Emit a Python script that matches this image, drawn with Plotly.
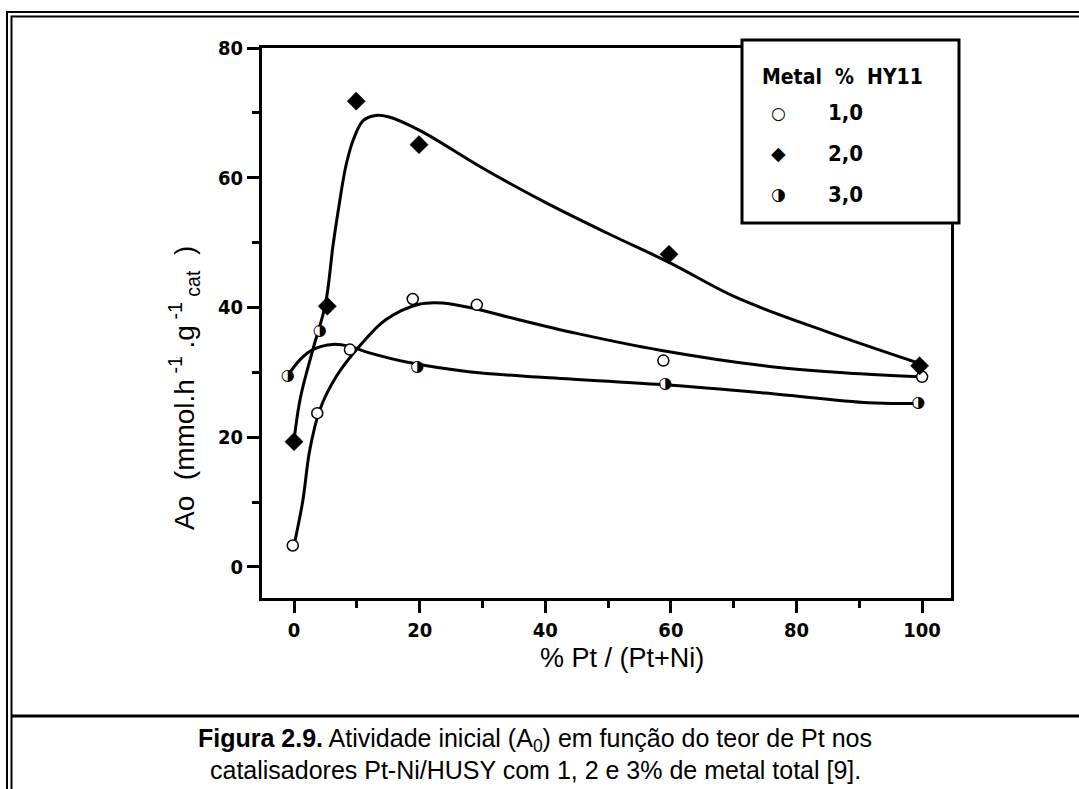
import plotly.graph_objects as go

# ---------------- data ----------------
# measured points
x_m1 = [-0.2, 3.7, 8.9, 18.9, 29.1, 58.8, 100.0]
y_m1 = [3.3, 23.7, 33.5, 41.3, 40.4, 31.8, 29.3]

x_m2 = [0.0, 5.3, 9.9, 19.9, 59.7, 99.6]
y_m2 = [19.3, 40.2, 71.8, 65.1, 48.2, 31.0]

x_m3 = [-1.0, 4.1, 19.6, 59.1, 99.4]
y_m3 = [29.5, 36.3, 30.8, 28.2, 25.3]

# fitted curves, as traced on the picture
x_c1 = [0, 1.4, 2.5, 4.1, 6.7, 10.4, 14.6, 19.9, 23.6, 28.9, 35, 45, 58.3, 75.7, 88, 99.5]
y_c1 = [3.3, 10.2, 18.0, 24.2, 29.3, 34.0, 38.1, 40.5, 40.7, 39.8, 38.3, 36.0, 33.4, 30.9, 29.9, 29.3]

x_c2 = [0, 1, 3, 5, 6.2, 7, 8.3, 9.5, 11, 13, 15, 20, 30, 40, 50, 60, 70.5, 85, 99.5]
y_c2 = [19.5, 26.0, 33.5, 40.5, 49.5, 54.7, 62.0, 66.0, 68.8, 69.6, 69.4, 67.3, 61.5, 56.2, 51.4, 46.8, 41.5, 36.2, 31.4]

x_c3 = [-1, 1, 3, 6.2, 8.8, 12, 18.3, 27.8, 40, 58.6, 75, 91.5, 99]
y_c3 = [29.5, 32.0, 33.5, 34.3, 34.0, 33.0, 31.5, 30.1, 29.2, 28.1, 26.8, 25.3, 25.2]

x_ticks = [0, 20, 40, 60, 80, 100]
y_ticks = [0, 20, 40, 60, 80]

legend_title = "Metal  %  HY11"
legend_labels = ["1,0", "2,0", "3,0"]
HALF = "\u25D1\uFE0E"
legend_symbols = ["\u25CB\uFE0E", "\u25C6\uFE0E", HALF]

# ---------------- layout geometry (pixels) ----------------
W, H = 1079, 789
L, R, T, B = 262, 951, 48, 598


def px(xp):
    return (xp - L) / (R - L)


def py(yp):
    return (B - yp) / (B - T)


TICKFONT = "Liberation Sans Narrow, DejaVu Sans Condensed, Arial Narrow, Liberation Sans"
TEXTFONT = "Liberation Sans, Arial, Helvetica"
SYMFONT = "DejaVu Sans"

fig = go.Figure()

line_style = dict(color="black", width=3, shape="spline", smoothing=1.0)
for xc, yc in [(x_c1, y_c1), (x_c2, y_c2), (x_c3, y_c3)]:
    fig.add_trace(go.Scatter(x=xc, y=yc, mode="lines", line=line_style,
                             showlegend=False, hoverinfo="skip"))

fig.add_trace(go.Scatter(x=x_m1, y=y_m1, mode="markers", showlegend=False,
                         marker=dict(symbol="circle", size=11, color="white",
                                     line=dict(color="black", width=1.5))))
fig.add_trace(go.Scatter(x=x_m2, y=y_m2, mode="markers", showlegend=False,
                         marker=dict(symbol="diamond", size=14, color="black",
                                     line=dict(color="black", width=0.5))))
# half-filled circles: white disc underneath + glyph with right half black
fig.add_trace(go.Scatter(x=x_m3, y=y_m3, mode="markers+text", text=[HALF] * len(x_m3),
                         textposition="middle center", showlegend=False,
                         marker=dict(symbol="circle", size=10, color="white",
                                     line=dict(width=0)),
                         textfont=dict(family=SYMFONT, size=16, color="#000000")))

axis_common = dict(showgrid=False, zeroline=False, showline=True, linewidth=3,
                   linecolor="black", mirror=True, ticks="outside", ticklen=12,
                   tickwidth=3, tickcolor="black",
                   tickfont=dict(family=TICKFONT, size=20, color="black", weight="bold"))

fig.update_xaxes(range=[-5.1, 104.6], tickvals=x_ticks,
                 minor=dict(dtick=10, tick0=0, ticks="outside", ticklen=7, tickwidth=3,
                            tickcolor="black"),
                 **axis_common)
fig.update_yaxes(range=[-4.8, 80], tickvals=y_ticks,
                 minor=dict(dtick=10, tick0=0, ticks="outside", ticklen=7, tickwidth=3,
                            tickcolor="black"),
                 **axis_common)

shapes = []
# outer double border
shapes.append(dict(type="rect", xref="paper", yref="paper", x0=px(7), x1=px(1200),
                   y0=py(900), y1=py(12), line=dict(color="black", width=2), layer="above"))
shapes.append(dict(type="rect", xref="paper", yref="paper", x0=px(11.5), x1=px(1200),
                   y0=py(900), y1=py(16.5), line=dict(color="black", width=2), layer="above"))
# caption divider
shapes.append(dict(type="line", xref="paper", yref="paper", x0=px(11.5), x1=px(1200),
                   y0=py(716), y1=py(716), line=dict(color="black", width=3), layer="above"))
# legend box
shapes.append(dict(type="rect", xref="paper", yref="paper", x0=px(742), x1=px(959),
                   y0=py(223), y1=py(40), line=dict(color="black", width=3),
                   fillcolor="white", layer="above"))

ann = []
# axis titles
ann.append(dict(xref="paper", yref="paper", x=px(622), y=py(658), showarrow=False,
                text="% Pt / (Pt+Ni)", xanchor="center", yanchor="middle",
                font=dict(family=TEXTFONT, size=27, color="black")))
ann.append(dict(xref="paper", yref="paper", x=px(184), y=py(388), showarrow=False,
                textangle=-90, xanchor="center", yanchor="middle",
                text="Ao  (mmol.h<sup> -1</sup> .g<sup> -1</sup><sub> cat</sub>  )",
                font=dict(family=TEXTFONT, size=28, color="black")))
# legend
ann.append(dict(xref="paper", yref="paper", x=px(760), y=py(77), showarrow=False,
                text="<b>" + legend_title + "</b>", xanchor="left", yanchor="middle",
                font=dict(family=TICKFONT, size=21, color="black")))
rows = [113, 153, 194]
for sym, lab, yy in zip(legend_symbols, legend_labels, rows):
    ann.append(dict(xref="paper", yref="paper", x=px(778), y=py(yy), showarrow=False,
                    text=sym, xanchor="center", yanchor="middle", bgcolor="rgba(0,0,0,0)",
                    font=dict(family=SYMFONT, size=17 if sym != legend_symbols[1] else 19,
                              color="#000000")))
    ann.append(dict(xref="paper", yref="paper", x=px(826), y=py(yy), showarrow=False,
                    text="<b>" + lab + "</b>", xanchor="left", yanchor="middle",
                    font=dict(family=TICKFONT, size=22, color="black")))
# caption
ann.append(dict(xref="paper", yref="paper", x=px(535), y=py(740), showarrow=False,
                xanchor="center", yanchor="middle",
                text="<b>Figura 2.9.</b> Atividade inicial (A<sub>0</sub>) em função do teor de Pt nos",
                font=dict(family=TEXTFONT, size=25, color="black")))
ann.append(dict(xref="paper", yref="paper", x=px(535), y=py(770), showarrow=False,
                xanchor="center", yanchor="middle",
                text="catalisadores Pt-Ni/HUSY com 1, 2 e 3% de metal total [9].",
                font=dict(family=TEXTFONT, size=25, color="black")))

fig.update_layout(width=W, height=H, margin=dict(l=L, r=W - R, t=T, b=H - B),
                  paper_bgcolor="white", plot_bgcolor="white", showlegend=False,
                  shapes=shapes, annotations=ann)

fig.write_html("out.html", include_plotlyjs=True, full_html=True,
               config=dict(displayModeBar=False))
